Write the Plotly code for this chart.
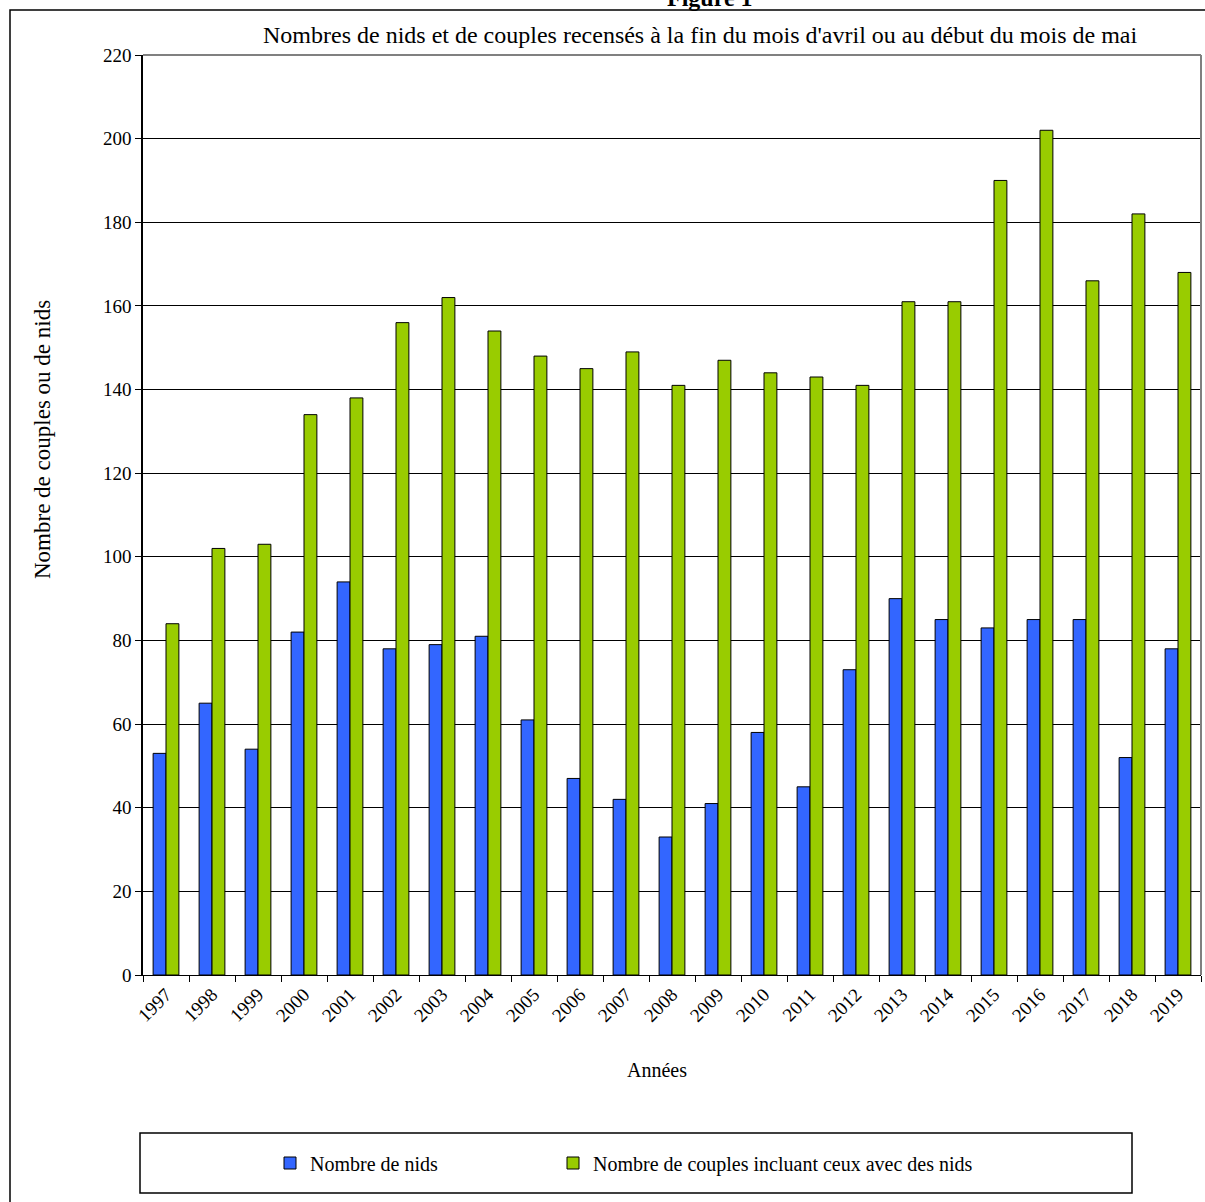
import plotly.graph_objects as go

years = [str(y) for y in range(1997, 2020)]
nids = [53, 65, 54, 82, 94, 78, 79, 81, 61, 47, 42, 33, 41, 58, 45, 73, 90, 85, 83, 85, 85, 52, 78]
couples = [84, 102, 103, 134, 138, 156, 162, 154, 148, 145, 149, 141, 147, 144, 143, 141, 161, 161, 190, 202, 166, 182, 168]
y_ticks = list(range(0, 221, 20))

W, H = 1205, 1202
L, R, T, B = 143, 1201, 55, 975  # plot area in pixels
pw, ph = R - L, B - T

def px(x):
    return (x - L) / pw

def py(y):
    return (B - y) / ph

FONT = "Liberation Serif, Times New Roman, serif"

fig = go.Figure()
fig.add_trace(go.Bar(x=years, y=nids, name="Nombre de nids", legend="legend",
                     marker=dict(color="#3366FF", line=dict(color="black", width=1))))
fig.add_trace(go.Bar(x=years, y=couples, name="Nombre de couples incluant ceux avec des nids",
                     legend="legend2",
                     marker=dict(color="#99CC00", line=dict(color="black", width=1))))

shapes = [
    # outer chart frame
    dict(type="rect", xref="paper", yref="paper", x0=px(10), x1=px(1215), y0=py(10), y1=py(1215),
         line=dict(color="black", width=1.5), fillcolor="rgba(0,0,0,0)", layer="below"),
    # plot area top and right border (gray)
    dict(type="line", xref="paper", yref="paper", x0=0, x1=1, y0=1, y1=1,
         line=dict(color="#808080", width=2)),
    dict(type="line", xref="paper", yref="paper", x0=1, x1=1, y0=0, y1=1,
         line=dict(color="#808080", width=2)),
    # legend box
    dict(type="rect", xref="paper", yref="paper", x0=px(140), x1=px(1132), y0=py(1133), y1=py(1193),
         line=dict(color="black", width=1.5), fillcolor="rgba(0,0,0,0)"),
]

annotations = [
    dict(text="<b>Figure 1</b>", xref="paper", yref="paper", x=px(710), y=py(-2),
         showarrow=False, font=dict(family=FONT, size=24, color="black"), xanchor="center", yanchor="middle"),
    dict(text="Nombres de nids et de couples recensés à la fin du mois d'avril ou au début du mois de mai",
         xref="paper", yref="paper", x=px(700), y=py(35), showarrow=False,
         font=dict(family=FONT, size=24, color="black"), xanchor="center", yanchor="middle"),
    dict(text="Années", xref="paper", yref="paper", x=px(657), y=py(1070), showarrow=False,
         font=dict(family=FONT, size=20, color="black"), xanchor="center", yanchor="middle"),
    dict(text="Nombre de couples ou de nids", xref="paper", yref="paper", x=px(42), y=py(440),
         showarrow=False, textangle=-90,
         font=dict(family=FONT, size=23, color="black"), xanchor="center", yanchor="middle"),
]

leg_common = dict(orientation="h", xanchor="left", yanchor="middle",
                  font=dict(family=FONT, size=20, color="black"), bgcolor="rgba(0,0,0,0)",
                  itemwidth=30, borderwidth=0)

fig.update_layout(
    width=W, height=H,
    margin=dict(l=L, r=W - R, t=T, b=H - B),
    paper_bgcolor="white", plot_bgcolor="white",
    barmode="group", bargap=0.44, bargroupgap=0,
    font=dict(family=FONT, size=19, color="black"),
    shapes=shapes, annotations=annotations,
    showlegend=True,
    legend=dict(x=px(270), y=py(1163), **leg_common),
    legend2=dict(x=px(553), y=py(1163), **leg_common),
)
fig.update_xaxes(type="category", tickangle=-45, ticks="outside", ticklen=6, tickcolor="black",
                 tickson="boundaries", showline=True, linecolor="black", linewidth=1,
                 showgrid=False, tickfont=dict(family=FONT, size=19, color="black"))
fig.update_yaxes(range=[0, 220], tickvals=y_ticks, ticks="outside", ticklen=6, tickcolor="black",
                 showline=True, linecolor="black", linewidth=1.5, showgrid=True,
                 gridcolor="black", gridwidth=1, zeroline=False,
                 tickfont=dict(family=FONT, size=19, color="black"))

fig.write_html("out.html", config={"displayModeBar": False},
               post_script="document.body.style.margin='0';document.body.style.overflow='hidden';")
